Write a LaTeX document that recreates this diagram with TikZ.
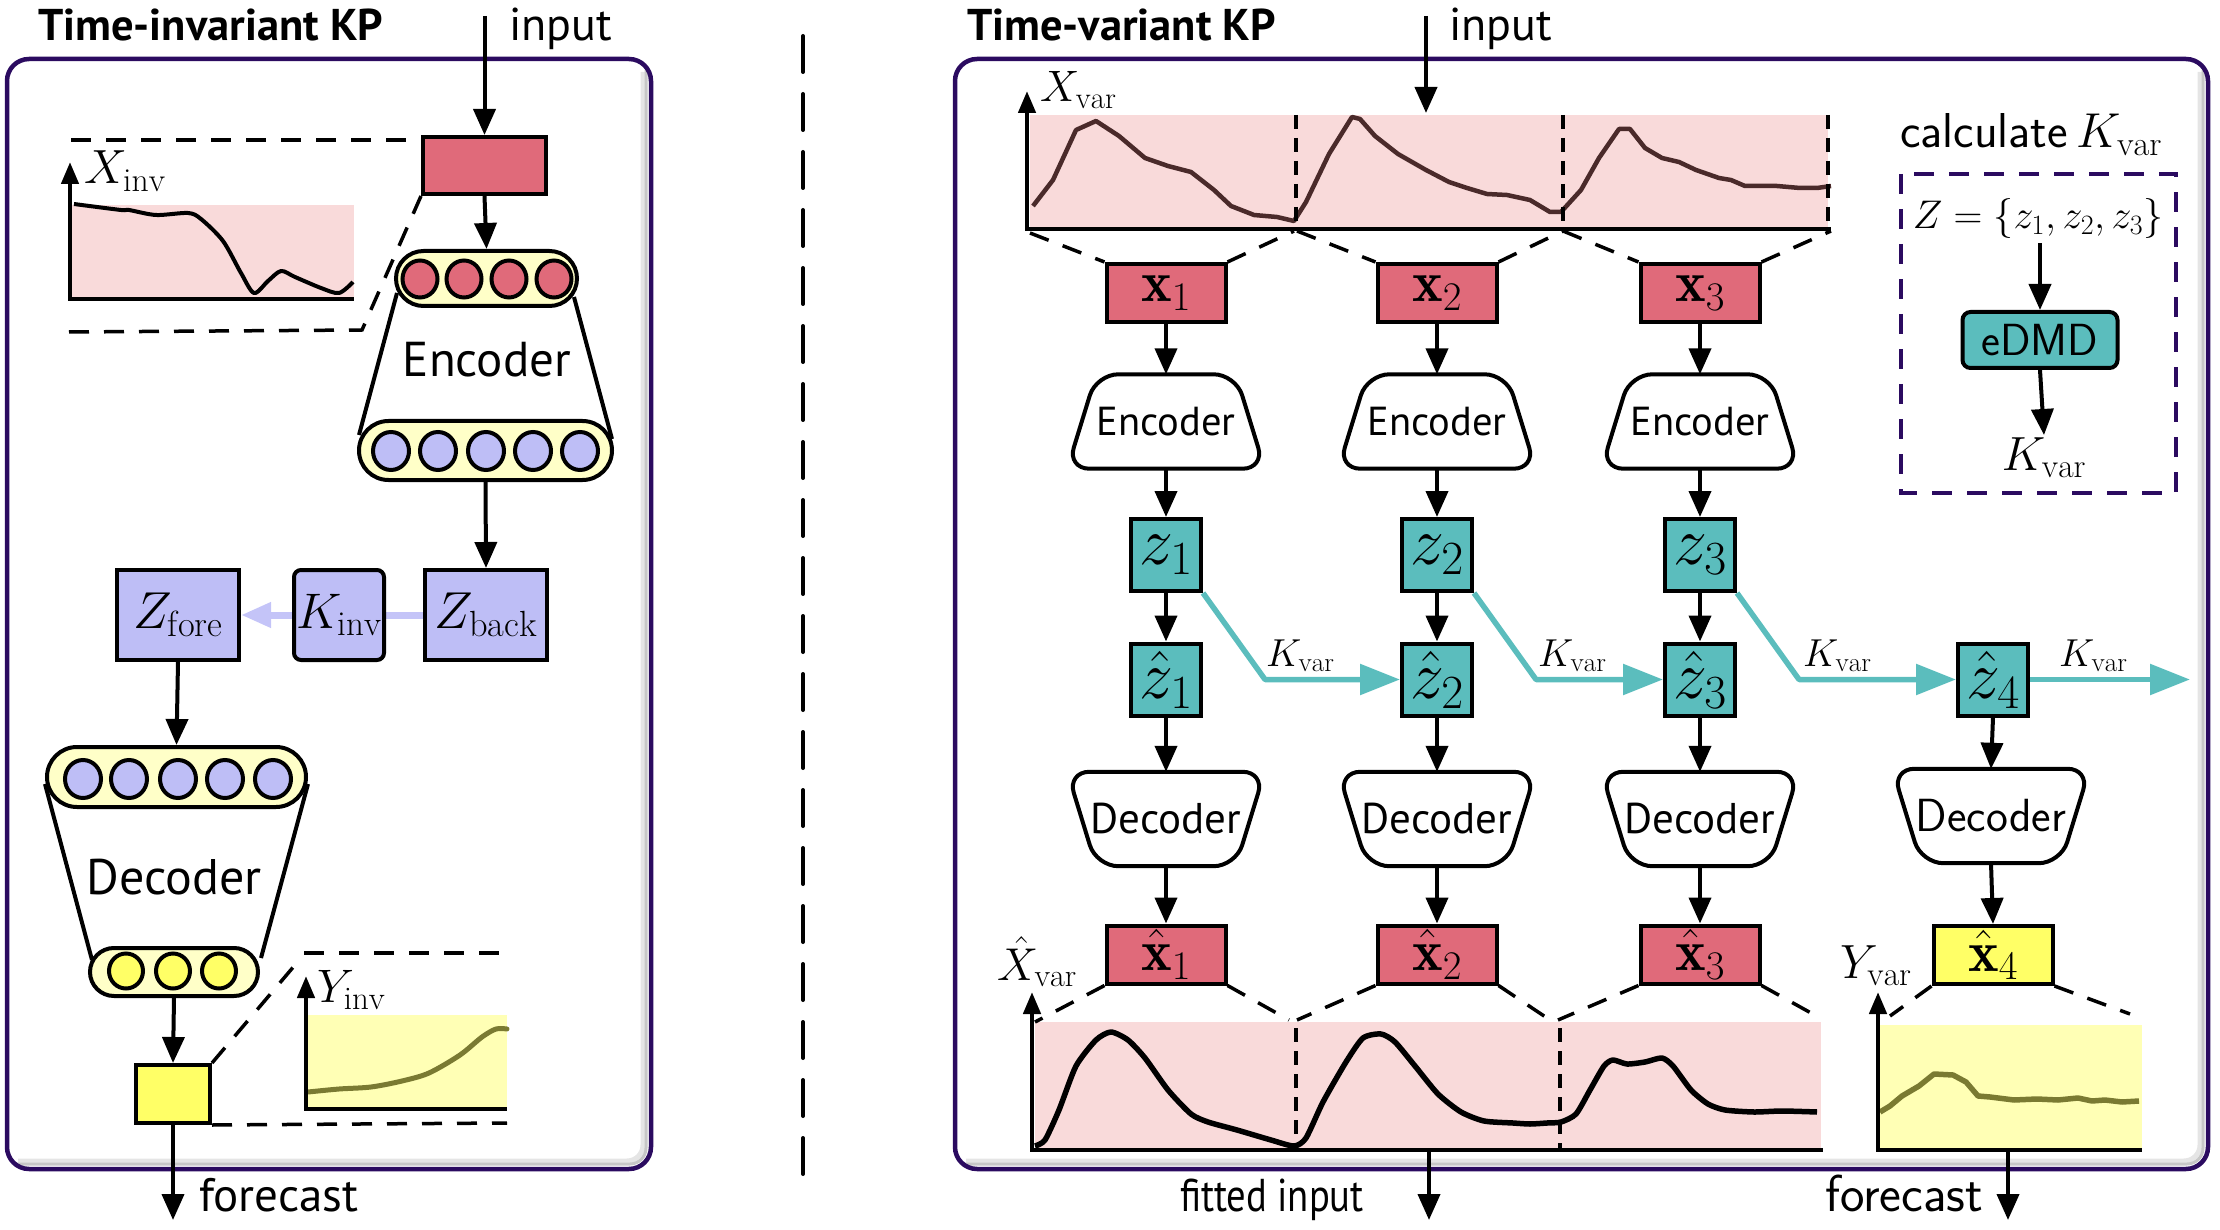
\RequirePackage{fix-cm}
\documentclass[tikz,border=0pt]{standalone}
\usepackage{fontspec}
\newfontfamily\pts{PT Sans}
\usetikzlibrary{arrows.meta,calc}
\definecolor{bred}{HTML}{E06A7A}
\definecolor{pinkbg}{HTML}{F9DADA}
\definecolor{tealc}{HTML}{5BBDBD}
\definecolor{lav}{HTML}{BEBEF6}
\definecolor{lavarrow}{HTML}{C4C4F8}
\definecolor{yel}{HTML}{FFFF66}
\definecolor{ylight}{HTML}{FFFFB5}
\definecolor{pillc}{HTML}{FFFFC8}
\definecolor{olive}{HTML}{7A7A32}
\definecolor{brownc}{HTML}{4A2A2A}
\definecolor{purp}{HTML}{2B0B60}
\newcommand\fsz[1]{\fontsize{#1}{#1}\selectfont}
\newcommand\encpath[1]{\draw[shp] ($(#1.north west)+(29,0)$) -- ($(#1.north east)+(-29,0)$) -- (#1.south east) -- (#1.south west) -- cycle;}
\newcommand\decpath[1]{\draw[shp] (#1.north west) -- (#1.north east) -- ($(#1.south east)+(-29,0)$) -- ($(#1.south west)+(29,0)$) -- cycle;}
\tikzset{
  arr/.style={line width=4pt,-{Triangle[length=26pt,width=22pt]}},
  axis/.style={line width=4.5pt,{Triangle[length=22pt,width=17pt]}-},
  dsh/.style={line width=3.5pt,dash pattern=on 20pt off 15pt},
  vdsh/.style={line width=3.5pt,dash pattern=on 14pt off 9pt},
  box/.style={draw,line width=4pt,inner sep=0pt},
  redbox/.style={box,fill=bred,minimum width=119pt,minimum height=58pt,font=\fsz{58}},
  tealbox/.style={box,fill=tealc,minimum width=70pt,minimum height=72pt,font=\fsz{68}},
  lavbox/.style={box,fill=lav,minimum width=122pt,minimum height=90pt,font=\fsz{52}},
  pill/.style={draw,line width=4pt,fill=pillc,inner sep=0pt},
  shpnode/.style={minimum width=197pt,minimum height=94pt,inner sep=0pt},
  shp/.style={line width=4pt,rounded corners=22pt},
  tealarr/.style={tealc,line width=5.5pt,-{Triangle[length=40pt,width=30pt]}},
  lbl/.style={anchor=base west,inner sep=0pt},
  outer/.style={draw=purp,line width=4.5pt,rounded corners=22pt},
  shad/.style={line width=5pt,rounded corners=16pt},
}
\begin{document}
\begin{tikzpicture}[x=1pt,y=-1pt]
\useasboundingbox (0,0) rectangle (2220,1230);
% outer frames with soft inner shadow
\draw[shad,black!10] (643,72) -- (643,1161) -- (18,1161);
\draw[shad,black!22,line width=3pt] (646,70) -- (646,1164) -- (16,1164);
\draw[outer] (7,59) rectangle (651,1169);
\draw[shad,black!10] (2200,72) -- (2200,1161) -- (966,1161);
\draw[shad,black!22,line width=3pt] (2203,70) -- (2203,1164) -- (964,1164);
\draw[outer] (955,59) rectangle (2208,1169);
\draw[line width=4pt,line cap=round,dash pattern=on 36pt off 22pt] (803,36) -- (803,1180);

%================ LEFT =================
\node[lbl,font=\pts\bfseries\fsz{44.5}] (tL) at (38,41) {Time-invariant KP};
\node[redbox,minimum width=123pt,minimum height=57pt] (xin) at (484.5,165.5) {};
\coordinate (inL) at (484.5,16);
\draw[arr] (inL) -- (xin.north);
\node[lbl,font=\pts\fsz{46}] (inLt) at (509,41) {input};

% X_inv plot
\fill[pinkbg] (71,205) rectangle (354,299);
\draw[line width=4pt,line join=round] plot[smooth,tension=0.5] coordinates {(74,204) (121,210) (129,210) (156,215) (188,213) (201,219) (223,241) (241,273) (254,293) (268,281) (281,271) (295,277) (321,288) (339,293) (353,282)};
\draw[axis] (70,162) -- (70,299) -- (354,299);
\node[lbl,font=\fsz{48}] (xil) at (84,184) {$X_{\mathrm{inv}}$};
\draw[dsh] (71,140) -- (xin.west |- 0,140);
\draw[dsh] (69,332) -- (362,330) -- (xin.south west);

% encoder
\draw[line width=4pt] (397,293) -- (359,435) (574,297) -- (612,439);
\node[pill,minimum width=181pt,minimum height=55pt,rounded corners=27.5pt] (encT) at (486.5,278.5) {};
\foreach \x in {420,464,509,554} \filldraw[line width=4pt,fill=bred] (\x,279) ellipse [x radius=17.5pt,y radius=18.5pt];
\node[pill,minimum width=253pt,minimum height=59pt,rounded corners=29.5pt] (encB) at (485.5,450.5) {};
\foreach \x in {391,438,486,533,580} \filldraw[line width=4pt,fill=lav] (\x,451) ellipse [x radius=18pt,y radius=19pt];
\node[font=\pts\fsz{49}] (encL) at (487,360) {Encoder};
\draw[arr] (xin.south) -- (encT.north);

% latent
\node[lavbox] (zb) at (486,615) {$Z_{\mathrm{back}}$};
\node[lavbox] (zf) at (178,615) {$Z_{\mathrm{fore}}$};
\draw[lavarrow,line width=7pt,-{Triangle[length=30pt,width=24pt]}] (zb.west) -- (zf.east);
\node[box,fill=lav,rounded corners=7pt,minimum width=90pt,minimum height=90pt,font=\fsz{50}] (kinv) at (339,615) {$K_{\mathrm{inv}}$};
\draw[arr] (encB.south) -- (zb.north);

% decoder
\draw[line width=4pt] (45,784) -- (92,960) (308,784) -- (261,958);
\node[pill,minimum width=259pt,minimum height=60pt,rounded corners=30pt] (decT) at (176.5,777) {};
\foreach \x in {83,129,178,225,273} \filldraw[line width=4pt,fill=lav] (\x,779) ellipse [x radius=18pt,y radius=19pt];
\node[pill,minimum width=168pt,minimum height=48pt,rounded corners=24pt] (decB) at (174,972) {};
\foreach \x in {126,173,219} \filldraw[line width=4pt,fill=yel] (\x,971) ellipse [x radius=17pt,y radius=17.5pt];
\node[font=\pts\fsz{50}] (decL) at (174,877) {Decoder};
\draw[arr] (zf.south) -- (decT.north);
\node[box,fill=yel,minimum width=74pt,minimum height=58pt] (yb) at (173,1094) {};
\draw[arr] (decB.south) -- (yb.north);
\coordinate (fcL) at (173,1220);
\draw[arr] (yb.south) -- (fcL);
\node[lbl,font=\pts\fsz{47}] (fcLt) at (199,1211) {forecast};

% Y_inv plot
\fill[ylight] (308,1015) rectangle (507,1109);
\draw[olive,line width=5pt,line cap=round] plot[smooth,tension=0.5] coordinates {(308,1092) (339,1089) (371,1087) (402,1081) (429,1073) (460,1055) (482,1037) (496,1029) (507,1029)};
\draw[axis] (306,976) -- (306,1109) -- (507,1109);
\node[lbl,font=\fsz{47}] (yil) at (317,1002) {$Y_{\mathrm{inv}}$};
\draw[dsh] (304,953) -- (504,953);
\draw[dsh] (yb.north east) -- (295,965);
\draw[dsh] (yb.south east) -- (507,1123);

%================ RIGHT =================
\node[lbl,font=\pts\bfseries\fsz{44.5}] (tR) at (967,41) {Time-variant KP};
\coordinate (inR) at (1426,16);
\coordinate (inRe) at (1426,113);
\draw[arr] (inR) -- (inRe);
\node[lbl,font=\pts\fsz{46}] (inRt) at (1449,41) {input};

% X_var plot
\fill[pinkbg] (1030,115) rectangle (1828,229);
\draw[brownc,line width=4.5pt,line join=round] plot coordinates {(1033,206) (1053,180) (1076,130) (1096,121) (1119,136) (1145,158) (1168,166) (1191,172) (1214,190) (1231,206) (1254,215) (1277,217) (1294,221) (1306,202) (1329,154) (1352,117) (1360,119) (1375,136) (1398,154) (1426,170) (1449,182) (1467,188) (1487,194) (1507,195) (1530,200) (1550,212) (1561,212) (1581,190) (1599,158) (1619,129) (1630,129) (1645,148) (1662,158) (1679,162) (1696,170) (1719,178) (1731,180) (1745,186) (1777,186) (1800,188) (1817,188) (1831,186)};
\foreach \x in {1296,1563,1828} \draw[vdsh] (\x,115) -- (\x,229);
\draw[axis] (1027,91) -- (1027,229) -- (1831,229);
\node[lbl,font=\fsz{44}] (xvl) at (1040,102) {$X_{\mathrm{var}}$};

% columns
\foreach \i/\cx in {1/1166,2/1437,3/1700} {
  \node[redbox] (x\i) at (\cx,293) {$\mathbf{x}_{\i}$};
  \node[shpnode,font=\pts\fsz{40.5}] (e\i) at (\cx,421.5) {Encoder};
  \encpath{e\i}
  \node[tealbox] (z\i) at (\cx,555) {$z_{\i}$};
  \node[tealbox] (zh\i) at (\cx,679.5) {$\hat{z}_{\i}$};
  \node[shpnode,font=\pts\fsz{43}] (d\i) at (\cx,819) {Decoder};
  \decpath{d\i}
  \node[redbox] (xh\i) at (\cx,954.5) {$\hat{\mathbf{x}}_{\i}$};
  \draw[arr] (x\i.south) -- (e\i.north);
  \draw[arr] (e\i.south) -- (z\i.north);
  \draw[arr] (z\i.south) -- (zh\i.north);
  \draw[arr] (zh\i.south) -- (d\i.north);
  \draw[arr] (d\i.south) -- (xh\i.north);
}
% column 4
\node[tealbox] (zh4) at (1993,679.5) {$\hat{z}_4$};
\node[shpnode,font=\sffamily\fsz{46.5}] (d4) at (1991,816) {Decoder};
\decpath{d4}
\node[redbox,fill=yel] (xh4) at (1993,955) {$\hat{\mathbf{x}}_4$};
\draw[arr] (zh4.south) -- (d4.north);
\draw[arr] (d4.south) -- (xh4.north);

% teal K_var connectors
\foreach \i/\j in {1/2,2/3,3/4} {
  \coordinate (b\i) at ([xshift=62pt]z\i.south east);
  \draw[tealarr,line join=round] (z\i.south east) -- (b\i |- zh\j.west) -- (zh\j.west);
}
\coordinate (kend) at (2190,679.5);
\draw[tealarr] (zh4.east) -- (kend);
\foreach \x [count=\k] in {1266,1538,1803,2059} \node[lbl,font=\fsz{39}] (kl\k) at (\x,666) {$K_{\mathrm{var}}$};

% dashed from X_var to x boxes
\draw[dsh] (1030,233) -- (x1.north west);
\draw[dsh] (x1.north east) -- (1294,231);
\draw[dsh] (1297,231) -- (x2.north west);
\draw[dsh] (x2.north east) -- (1563,231);
\draw[dsh] (1563,231) -- (x3.north west);
\draw[dsh] (x3.north east) -- (1831,231);

% Xhat_var plot
\fill[pinkbg] (1035,1022) rectangle (1821,1150);
\draw[line width=5.5pt,line join=round] plot[smooth,tension=0.4] coordinates {(1035,1146) (1045,1140) (1059,1110) (1076,1066) (1096,1040) (1111,1032) (1128,1040) (1145,1058) (1168,1090) (1191,1114) (1208,1122) (1237,1130) (1271,1140) (1294,1146) (1306,1138) (1323,1102) (1346,1062) (1363,1038) (1381,1034) (1395,1042) (1415,1066) (1438,1094) (1461,1112) (1484,1121) (1513,1123) (1530,1124) (1547,1123) (1561,1122) (1576,1114) (1590,1090) (1604,1066) (1613,1060) (1627,1064) (1645,1062) (1662,1058) (1673,1066) (1691,1090) (1708,1104) (1725,1110) (1754,1112) (1782,1111) (1817,1112)};
\foreach \x in {1296,1560} \draw[vdsh] (\x,1028) -- (\x,1148);
\draw[axis] (1032,992) -- (1032,1150) -- (1823,1150);
\node[lbl,font=\fsz{46}] (xhl) at (997,980) {$\hat{X}_{\mathrm{var}}$};
\draw[dsh] (xh1.south west) -- (1035,1022);
\draw[dsh] (xh1.south east) -- (1289,1020);
\draw[dsh] (xh2.south west) -- (1297,1020);
\draw[dsh] (xh2.south east) -- (1550,1020);
\draw[dsh] (xh3.south west) -- (1558,1020);
\draw[dsh] (xh3.south east) -- (1820,1018);

% Y_var plot
\fill[ylight] (1880,1025) rectangle (2142,1150);
\draw[olive,line width=5.5pt,line join=round] plot coordinates {(1880,1112) (1890,1106) (1902,1096) (1919,1086) (1934,1074) (1953,1075) (1966,1082) (1978,1096) (1990,1097) (2014,1100) (2037,1099) (2058,1100) (2078,1098) (2092,1101) (2105,1100) (2122,1102) (2139,1101)};
\draw[axis] (1878,992) -- (1878,1150) -- (2142,1150);
\node[lbl,font=\fsz{48}] (yvl) at (1840,978) {$Y_{\mathrm{var}}$};
\draw[dsh] (xh4.south west) -- (1890,1016);
\draw[dsh] (xh4.south east) -- (2130,1014);

% outputs
\coordinate (fiS) at (1429,1150);
\coordinate (fiE) at (1429,1220);
\draw[arr] (fiS) -- (fiE);
\node[lbl,font=\pts\fsz{46}] (fit) at (1180,1211) {\scalebox{0.84}[1]{fitted input}};
\coordinate (fcS) at (2008,1150);
\coordinate (fcE) at (2008,1220);
\draw[arr] (fcS) -- (fcE);
\node[lbl,font=\sffamily\fsz{52}] (fcRt) at (1825,1211) {forecast};

% calculate K_var
\node[lbl,font=\sffamily\fsz{49}] (calc) at (1900,148) {calculate$\,K_{\mathrm{var}}$};
\draw[purp,line width=4pt,dash pattern=on 20pt off 15pt] (1901,174) rectangle (2176,493);
\node[anchor=base,inner sep=0pt,font=\fsz{40}] (zset) at (2038,229) {$Z=\{z_1,z_2,z_3\}$};
\node[box,fill=tealc,rounded corners=8pt,minimum width=155pt,minimum height=56pt,font=\sffamily\fsz{45}] (edmd) at (2040,340) {eDMD};
\node[anchor=base,inner sep=0pt,font=\fsz{48}] (kv) at (2044,470) {$K_{\mathrm{var}}$};
\draw[arr] ([yshift=-4pt]zset.south -| edmd.north) -- (edmd.north);
\draw[arr] (edmd.south) -- ([yshift=2pt]kv.north);
\end{tikzpicture}
\end{document}
